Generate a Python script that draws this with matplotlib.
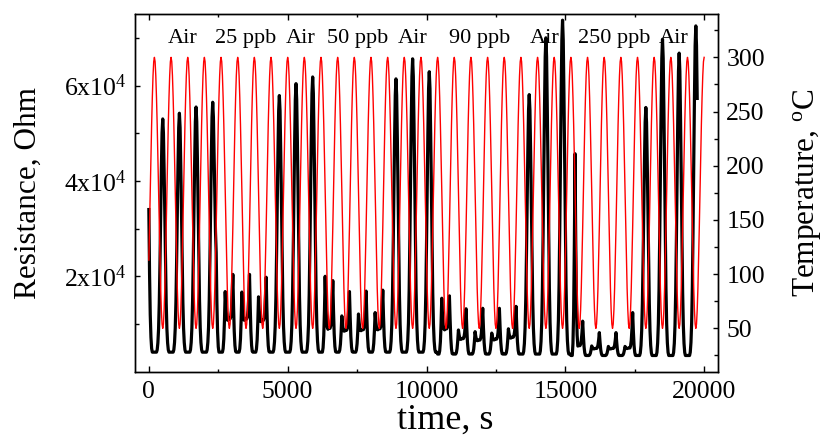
import numpy as np
import matplotlib
matplotlib.use("Agg")
import matplotlib.pyplot as plt
from matplotlib.ticker import FixedLocator, MultipleLocator, FuncFormatter

plt.rcParams["font.family"] = ["Liberation Serif", "DejaVu Serif"]
plt.rcParams["mathtext.fontset"] = "custom"
plt.rcParams["mathtext.rm"] = "Liberation Serif"
plt.rcParams["mathtext.it"] = "Liberation Serif:italic"

# ---------------------------------------------------------------- data
sample_step = 25            # s between logged points
n_samples = 801             # 0 ... 20000 s
cycle_len = 24              # points per 600 s heater cycle

# heater temperature over one cycle, starting at the 300 C maximum
temp_cycle = [300, 296, 283, 263, 238, 207, 175, 143, 113, 87, 67, 54,
              50, 54, 67, 87, 113, 143, 175, 207, 238, 263, 283, 296]
temp_phase0 = 16            # position in the cycle of the point at t = 0
first_cold = 20             # index of the first 50 C point (t = 500 s)

# sensor resistance, one entry per heater cycle (Ohm)
# single peak at the cold point for cycles in air (0 = cycle under gas)
peak_res = [53000, 54200, 55500, 56500, 0, 0, 0, 57900, 60400, 61800,
            0, 0, 0, 0, 61400, 65600, 62900, 0, 0, 0, 0, 0,
            58100, 70000, 73700, 0, 0, 0, 0, 55400, 69700, 66800, 72500]
# under gas: spike before the cold point, level at the cold point, spike after
pre_res = [0, 0, 0, 0, 16800, 16700, 15700, 0, 0, 0,
           20000, 11700, 12100, 12400, 0, 0, 0, 15400, 8750, 8400, 8100, 9000,
           0, 0, 0, 45700, 5400, 5300, 5300, 0, 0, 0, 0]
dip_res = [0, 0, 0, 0, 11200, 11200, 10900, 0, 0, 0,
           9200, 8800, 8900, 9100, 0, 0, 0, 9100, 7000, 6700, 6900, 7300,
           0, 0, 0, 5500, 4900, 4900, 5000, 0, 0, 0, 0]
post_res = [0, 0, 0, 25000, 20400, 20400, 19800, 0, 0, 0,
            19100, 16800, 16900, 17100, 0, 0, 0, 15900, 13200, 13300, 13300, 13700,
            0, 0, 0, 10600, 8200, 8200, 12400, 0, 0, 0, 0]
# resistance floor at the hot end of each cycle
base_res = [4100, 4100, 4100, 4100, 4100, 4100, 4100, 4100, 4100, 4100,
            4100, 4100, 4100, 4100, 4100, 4100, 4100, 3700, 3700, 3700, 3700,
            3700, 3700, 3700, 3700, 3400, 3400, 3400, 3400, 3400, 3400, 3400, 3400]
start_res = 34000           # first logged resistance (t = 0)
last_index = 790            # last logged resistance point

# response shapes around the cold point (one side, in logged points)
air_pulse = [1.00, 0.94, 0.78, 0.58, 0.38, 0.21, 0.10, 0.04, 0.01]
gas_shelf = [1.00, 0.98, 0.94, 0.87, 0.76, 0.62, 0.45, 0.25, 0.10, 0.02]
gas_spike = [1.00, 0.55, 0.22, 0.06]
pre_offset, post_offset = -6, 5

labels = ["Air", "25 ppb", "Air", "50 ppb", "Air", "90 ppb", "Air", "250 ppb", "Air"]
label_time = [1235, 3490, 5460, 7525, 9495, 11920, 14260, 16745, 18915]

# ---------------------------------------------------------------- series
time = np.arange(n_samples) * sample_step
temp = np.asarray(temp_cycle, float)[(np.arange(n_samples) + temp_phase0) % cycle_len]


def add_shape(arr, centre, amp, shape):
    for off, w in enumerate(shape):
        for i in sorted({centre - off, centre + off}):
            if 0 <= i < len(arr):
                arr[i] += amp * w


n_cycles = len(peak_res)
res = np.empty(n_samples)
res[:first_cold - cycle_len // 2] = base_res[0]
for k in range(n_cycles):
    lo = first_cold + k * cycle_len - cycle_len // 2
    res[lo:lo + cycle_len] = base_res[k]

# tail of the cycle that was running when logging started
first_air_offset = 4
add_shape(res, -first_air_offset, (start_res - base_res[0]) / air_pulse[first_air_offset], air_pulse)

for k in range(n_cycles):
    c = first_cold + k * cycle_len
    if peak_res[k]:
        add_shape(res, c, peak_res[k] - base_res[k], air_pulse)
    if dip_res[k]:
        add_shape(res, c, dip_res[k] - base_res[k], gas_shelf)
for k in range(n_cycles):
    c = first_cold + k * cycle_len
    for target, off in ((pre_res[k], pre_offset), (post_res[k], post_offset)):
        if target:
            i = c + off
            add_shape(res, i, target - res[i], gas_spike)

# ---------------------------------------------------------------- figure
fig = plt.figure(figsize=(8.24, 4.40), dpi=100)
ax = fig.add_axes([0.1638, 0.1552, 0.7076, 0.8130])
ax.plot(time[:last_index + 1], res[:last_index + 1], color="black", lw=2.3)

ax2 = ax.twinx()
ax2.plot(time, temp, color="#ff0000", lw=1.0)

ax.set_xlim(-500, 20500)
ax.set_ylim(0, 75000)
ax2.set_ylim(10, 340)

ax.xaxis.set_major_locator(MultipleLocator(5000))
ax.xaxis.set_minor_locator(MultipleLocator(2500))
ax.yaxis.set_major_locator(FixedLocator([20000, 40000, 60000]))
ax.yaxis.set_minor_locator(FixedLocator([10000, 30000, 50000, 70000]))
ax.yaxis.set_major_formatter(FuncFormatter(lambda v, p: r"$\mathregular{%dx10^{4}}$" % round(v / 1e4)))
ax2.yaxis.set_major_locator(FixedLocator([50, 100, 150, 200, 250, 300]))
ax2.yaxis.set_minor_locator(FixedLocator([25, 75, 125, 175, 225, 275, 325]))

ax.tick_params(axis="x", which="both", direction="in", top=True, width=1.0, labelsize=18.5, pad=7)
ax.tick_params(axis="x", which="major", length=4.2)
ax.tick_params(axis="x", which="minor", length=2.4)
ax.tick_params(axis="y", which="both", direction="in", width=1.0, labelsize=18.5, pad=6)
ax.tick_params(axis="y", which="major", length=3.8)
ax.tick_params(axis="y", which="minor", length=3.0)
ax2.tick_params(axis="y", which="both", direction="in", width=1.0, labelsize=18.5, pad=6)
ax2.tick_params(axis="y", which="major", length=3.8)
ax2.tick_params(axis="y", which="minor", length=3.0)

for a in (ax, ax2):
    for s in a.spines.values():
        s.set_linewidth(1.0)

ax.set_xlabel("time, s", fontsize=26)
ax.xaxis.set_label_coords(0.532, -0.09)
ax.set_ylabel("Resistance, Ohm", fontsize=22.5)
ax.yaxis.set_label_coords(-0.158, 0.5)
ax2.set_ylabel(r"Temperature, $^{\mathregular{o}}$C", fontsize=22.5)
ax2.yaxis.set_label_coords(1.126, 0.5)

for text, tx in zip(labels, label_time):
    ax2.text(tx, 0.92, text, transform=ax2.get_xaxis_transform(),
             ha="center", va="baseline", fontsize=16)

fig.savefig("out.png", dpi=100)
